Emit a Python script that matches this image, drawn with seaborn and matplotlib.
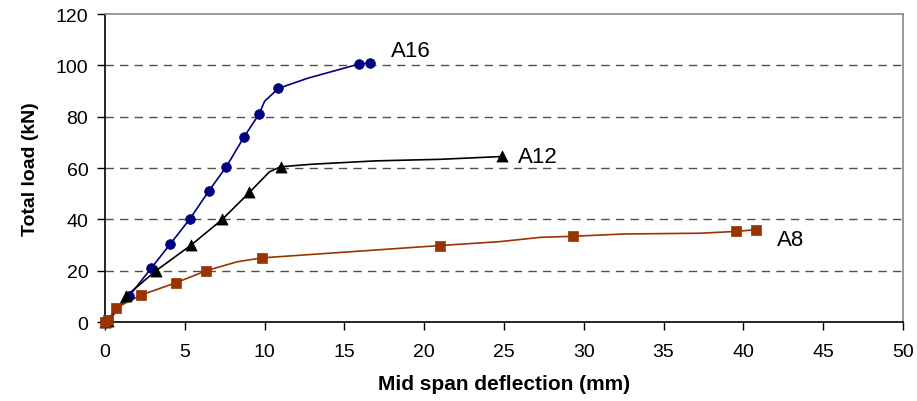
import seaborn as sns
import pandas as pd
import matplotlib.pyplot as plt

# mid span deflection (mm) vs total load (kN); *_mark = points drawn with a marker
a16_x = [0, 0.2, 1.5, 2.9, 4.1, 5.3, 6.5, 7.6, 8.7, 9.65, 10.0, 10.85, 12.7, 15.9, 16.6]
a16_y = [0, 0.5, 10, 21, 30.5, 40, 51, 60.5, 72, 81, 86, 91, 95, 100.5, 101]
a16_mark = [1, 1, 1, 1, 1, 1, 1, 1, 1, 1, 0, 1, 0, 1, 1]

a12_x = [0, 0.2, 1.3, 3.2, 5.4, 7.35, 9.05, 10.3, 11.0, 13.0, 17.0, 21.0, 24.9]
a12_y = [0, 0.5, 10, 20, 30, 40, 50.5, 58.5, 60.5, 61.5, 62.8, 63.4, 64.5]
a12_mark = [1, 1, 1, 1, 1, 1, 1, 0, 1, 0, 0, 0, 1]

a8_x = [0, 0.2, 0.7, 2.25, 4.45, 6.35, 8.3, 9.85, 21.0, 24.7, 27.3, 29.3, 32.5, 37.3, 39.55, 40.8]
a8_y = [0, 0.8, 5.5, 10.5, 15.3, 20, 23.5, 25, 29.8, 31.3, 33, 33.4, 34.3, 34.6, 35.3, 36]
a8_mark = [1, 1, 1, 1, 1, 1, 0, 1, 1, 0, 0, 1, 0, 0, 1, 1]

x_ticks = [0, 5, 10, 15, 20, 25, 30, 35, 40, 45, 50]
y_ticks = [0, 20, 40, 60, 80, 100, 120]

sns.set_style("white")
plt.rcParams['font.family'] = ['Liberation Sans', 'DejaVu Sans']
plt.rcParams['text.color'] = 'black'
plt.rcParams['axes.labelcolor'] = 'black'
plt.rcParams['xtick.color'] = 'black'
plt.rcParams['ytick.color'] = 'black'

fig = plt.figure(figsize=(9.17, 4.02), dpi=100)
ax = fig.add_axes([0.1145, 0.1965, 0.8702, 0.766])

series = [
    ("A16", a16_x, a16_y, a16_mark, "#000080", "o", 7),
    ("A12", a12_x, a12_y, a12_mark, "black", "^", 8),
    ("A8", a8_x, a8_y, a8_mark, "#993300", "s", 7),
]

for name, xs, ys, mk, col, m, ms in series:
    df = pd.DataFrame({"x": xs, "y": ys, "mark": mk})
    sns.lineplot(data=df, x="x", y="y", ax=ax, color=col, linewidth=1.2,
                 sort=False, estimator=None, zorder=3)
    sub = df[df["mark"] == 1]
    sns.scatterplot(data=sub, x="x", y="y", ax=ax, color=col, marker=m,
                    s=ms ** 2, edgecolor=col, linewidth=0.5, zorder=4,
                    clip_on=False)

ax.text(17.9, 105.8, "A16", fontsize=16, va="center")
ax.text(25.9, 64.5, "A12", fontsize=16, va="center")
ax.text(42.1, 32.3, "A8", fontsize=16, va="center")

ax.set_xlim(0, 50)
ax.set_ylim(0, 120)
ax.set_xticks(x_ticks)
ax.set_yticks(y_ticks)
ax.tick_params(axis="both", labelsize=14, direction="out", length=6, width=1,
               bottom=True, left=True)
ax.tick_params(axis="x", pad=9)
ax.tick_params(axis="y", pad=6)

for yv in y_ticks[1:-1]:
    ax.axhline(yv, color="#505050", linestyle=(0, (6, 4.5)), linewidth=1.0, zorder=1)

ax.spines["left"].set_color("black")
ax.spines["bottom"].set_color("black")
ax.spines["left"].set_linewidth(1.2)
ax.spines["bottom"].set_linewidth(1.2)
ax.spines["top"].set_color("#888888")
ax.spines["right"].set_color("#888888")
ax.spines["top"].set_linewidth(1.2)
ax.spines["right"].set_linewidth(1.2)

ax.set_xlabel("Mid span deflection (mm)", fontsize=15, fontweight="bold", labelpad=10)
ax.set_ylabel("Total load (kN)", fontsize=14, fontweight="bold", labelpad=12)

fig.savefig("out.png", dpi=100)
